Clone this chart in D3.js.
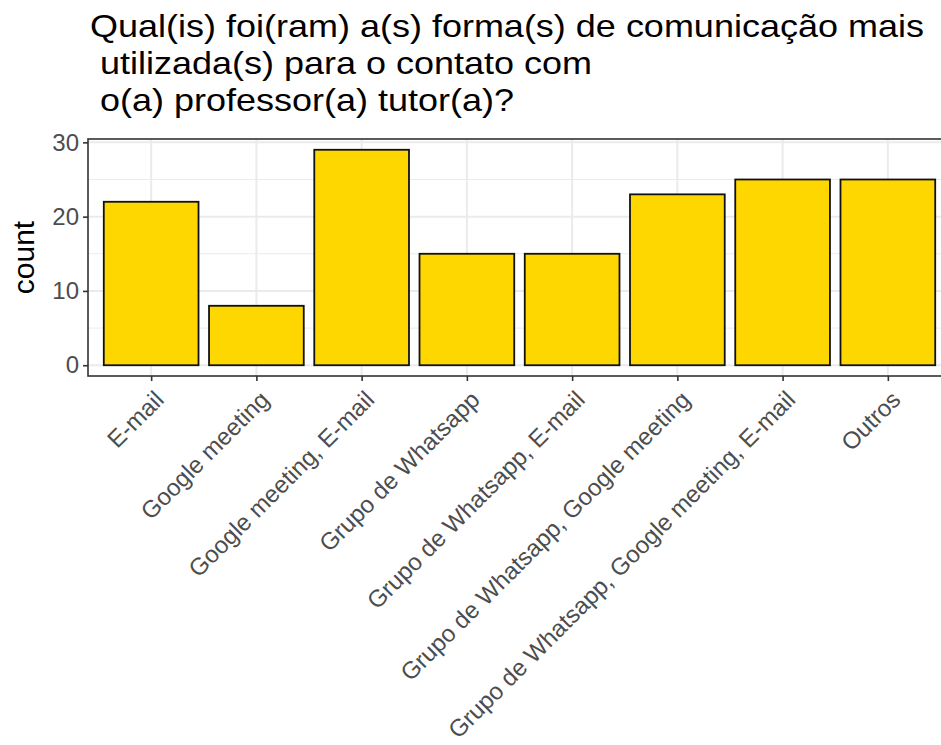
<!DOCTYPE html>
<html lang="pt">
<head>
    <meta charset="UTF-8">
    <title>Forma de comunicação com o professor tutor</title>
    <script src="https://d3js.org/d3.v7.min.js"></script>
    <style>
        body { margin: 0; background: #fff; }
        svg { display: block; font-family: "Liberation Sans", Arial, sans-serif; }
        .title { white-space: pre; }
    </style>
</head>
<body>
    <div id="chart"></div>

    <script>
        // Data
        const categories = [
            "E-mail",
            "Google meeting",
            "Google meeting, E-mail",
            "Grupo de Whatsapp",
            "Grupo de Whatsapp, E-mail",
            "Grupo de Whatsapp, Google meeting",
            "Grupo de Whatsapp, Google meeting, E-mail",
            "Outros"
        ];
        const counts = [22, 8, 29, 15, 15, 23, 25, 25];
        const yTicks = [0, 10, 20, 30];
        const yMinorTicks = [5, 15, 25];
        const titleLines = [
            "Qual(is) foi(ram) a(s) forma(s) de comunicação mais",
            " utilizada(s) para o contato com",
            " o(a) professor(a) tutor(a)?"
        ];

        const width = 941, height = 745;
        // panel box (runs past the right edge, like the cropped original)
        const panel = { left: 88, top: 139, right: 951, bottom: 376 };

        const svg = d3.select("#chart").append("svg")
            .attr("width", width)
            .attr("height", height);

        // ggplot-like expansion: 0.6 units for discrete, 5% for continuous
        const n = categories.length;
        const step = (panel.right - panel.left) / (n - 1 + 1.2);
        const x = d3.scalePoint()
            .domain(categories)
            .range([panel.left + 0.6 * step, panel.right - 0.6 * step]);
        const bw = 0.9 * step;

        const maxCount = d3.max(counts);
        const pad = maxCount * 0.05;
        const y = d3.scaleLinear()
            .domain([-pad, maxCount + pad])
            .range([panel.bottom, panel.top]);

        // grid
        const grid = svg.append("g");
        grid.selectAll(".minor").data(yMinorTicks).join("line")
            .attr("x1", panel.left).attr("x2", panel.right)
            .attr("y1", d => y(d)).attr("y2", d => y(d))
            .attr("stroke", "#ebebeb").attr("stroke-width", 1);
        grid.selectAll(".major").data(yTicks).join("line")
            .attr("x1", panel.left).attr("x2", panel.right)
            .attr("y1", d => y(d)).attr("y2", d => y(d))
            .attr("stroke", "#ebebeb").attr("stroke-width", 2);
        grid.selectAll(".vmajor").data(categories).join("line")
            .attr("x1", d => x(d)).attr("x2", d => x(d))
            .attr("y1", panel.top).attr("y2", panel.bottom)
            .attr("stroke", "#ebebeb").attr("stroke-width", 2);

        // bars
        svg.append("g").selectAll("rect").data(categories).join("rect")
            .attr("x", d => x(d) - bw / 2)
            .attr("width", bw)
            .attr("y", (d, i) => y(counts[i]))
            .attr("height", (d, i) => y(0) - y(counts[i]))
            .attr("fill", "#FFD700")
            .attr("stroke", "#111111")
            .attr("stroke-width", 1.8);

        // panel border
        svg.append("rect")
            .attr("x", panel.left).attr("y", panel.top)
            .attr("width", panel.right - panel.left)
            .attr("height", panel.bottom - panel.top)
            .attr("fill", "none")
            .attr("stroke", "#333333")
            .attr("stroke-width", 1.6);

        // y axis
        const yAxis = svg.append("g")
            .attr("transform", `translate(${panel.left},0)`)
            .call(d3.axisLeft(y).tickValues(yTicks).tickSize(5).tickPadding(4));
        yAxis.select(".domain").remove();
        yAxis.selectAll(".tick line").attr("stroke", "#333333").attr("stroke-width", 1.6);
        yAxis.selectAll(".tick text")
            .attr("fill", "#4d4d4d")
            .attr("font-size", 24)
            .attr("font-family", "Liberation Sans, Arial, sans-serif");

        // x axis
        const xAxis = svg.append("g")
            .attr("transform", `translate(0,${panel.bottom})`)
            .call(d3.axisBottom(x).tickSize(5).tickFormat(""));
        xAxis.select(".domain").remove();
        xAxis.selectAll(".tick line").attr("stroke", "#333333").attr("stroke-width", 1.6);

        svg.append("g").selectAll("text").data(categories).join("text")
            .attr("transform", d => `translate(${x(d) + 2},${panel.bottom + 13}) rotate(-45)`)
            .attr("text-anchor", "end")
            .attr("dy", "0.72em")
            .attr("font-size", 24)
            .attr("fill", "#4d4d4d")
            .text(d => d);

        // y axis title
        svg.append("text")
            .attr("transform", `translate(34,${(panel.top + panel.bottom) / 2}) rotate(-90)`)
            .attr("text-anchor", "middle")
            .attr("font-size", 30)
            .attr("fill", "#000")
            .text("count");

        // title (the original is drawn a bit wide, so stretch it horizontally)
        svg.append("g")
            .attr("transform", "translate(90,0) scale(1.125,1)")
            .selectAll("text").data(titleLines).join("text")
            .attr("class", "title")
            .attr("x", 0)
            .attr("y", (d, i) => 37 + i * 37)
            .attr("font-size", 32)
            .attr("fill", "#000")
            .text(d => d);
    </script>
</body>
</html>
